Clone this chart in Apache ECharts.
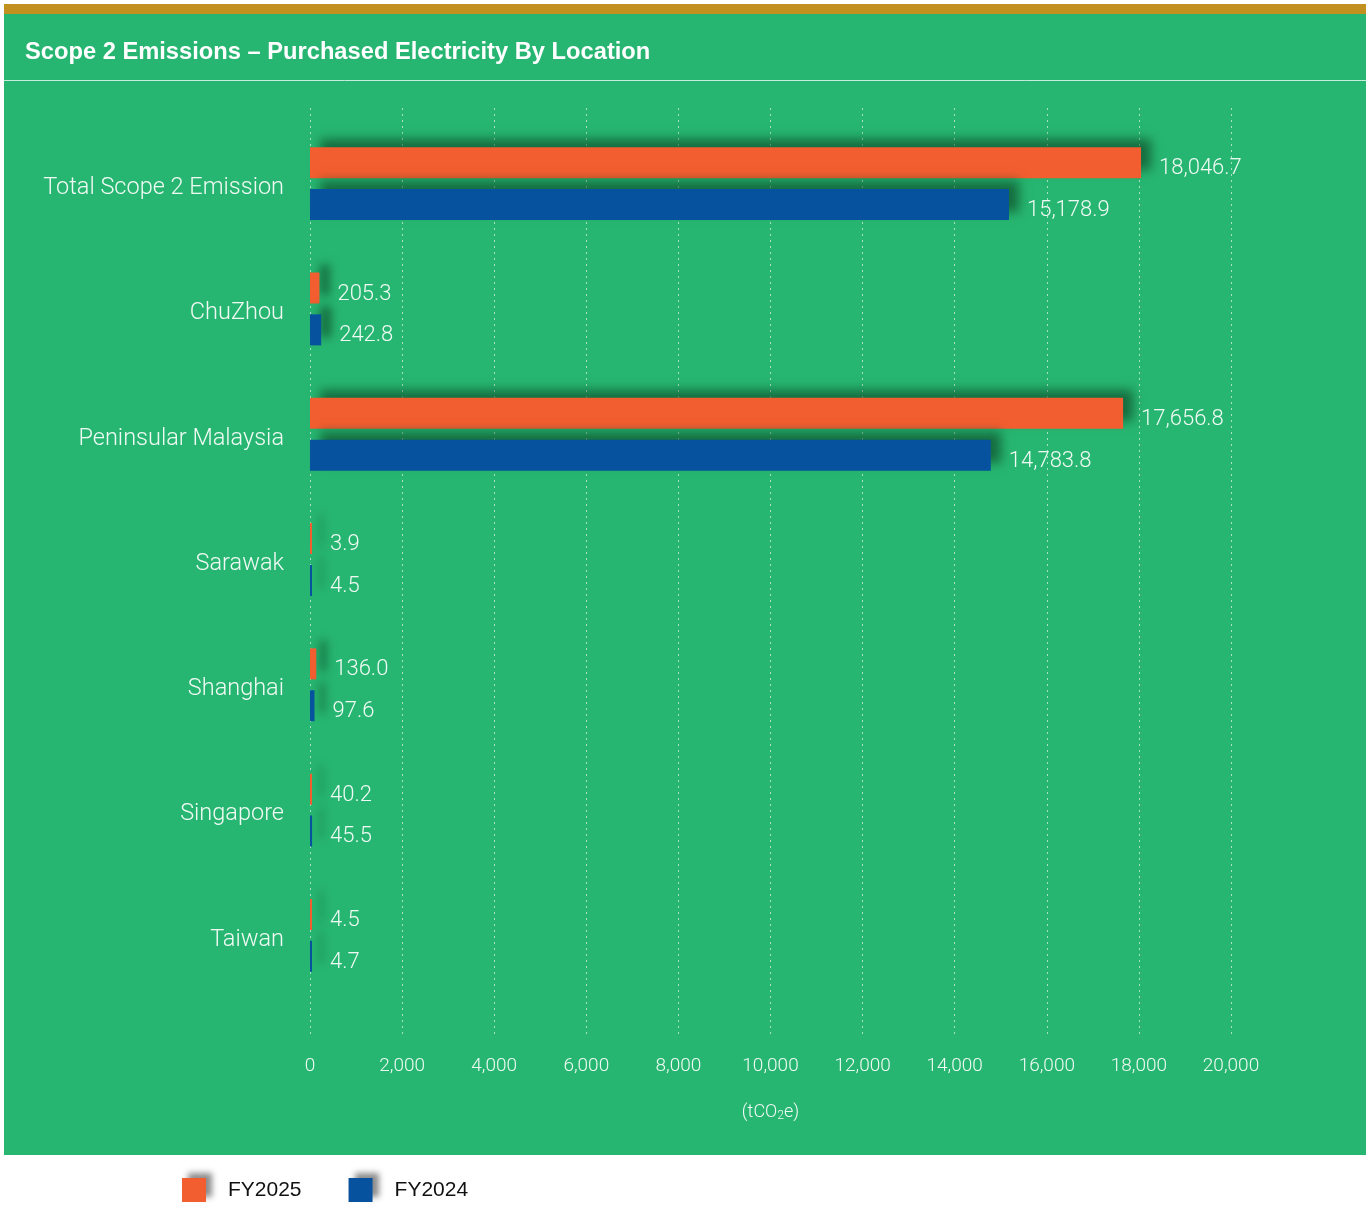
<!DOCTYPE html>
<html>
<head>
<meta charset="utf-8">
<script src="https://cdn.jsdelivr.net/npm/echarts@6/dist/echarts.min.js"></script>
<style>
  html, body { margin: 0; padding: 0; background: #fff; }
  #main { width: 1371px; height: 1210px; }
</style>
</head>
<body>
<div id="main"></div>
<script>
// data
var locations = ['Total Scope 2 Emission', 'ChuZhou', 'Peninsular Malaysia', 'Sarawak', 'Shanghai', 'Singapore', 'Taiwan'];
var fy2025 = [18046.7, 205.3, 17656.8, 3.9, 136.0, 40.2, 4.5];
var fy2024 = [15178.9, 242.8, 14783.8, 4.5, 97.6, 45.5, 4.7];
var seriesNames = ['FY2025', 'FY2024'];

var green = '#27b671';
var orange = '#f25e30';
var blue = '#07529e';
var lightText = '#f0faf4';
var font = 'Roboto, "Liberation Sans", sans-serif';

function fmt(v) {
  return v.toLocaleString('en-US', {minimumFractionDigits: 1, maximumFractionDigits: 1});
}

function barSeries(name, data, color) {
  return {
    name: name,
    type: 'bar',
    data: data,
    xAxisIndex: 0,
    yAxisIndex: 0,
    barWidth: 31,
    barGap: '35%',
    barMinHeight: 2,
    itemStyle: {
      color: color,
      shadowBlur: 10,
      shadowOffsetX: 10,
      shadowOffsetY: -8,
      shadowColor: 'rgba(10,60,30,0.6)'
    },
    label: {
      show: true,
      position: 'right',
      distance: 18,
      offset: [0, 6],
      color: lightText,
      fontSize: 22,
      fontWeight: 300,
      fontFamily: font,
      formatter: function (p) { return fmt(p.value); }
    }
  };
}

var chart = echarts.init(document.getElementById('main'));

var option = {
  backgroundColor: '#fff',
  animation: false,
  graphic: [
    { type: 'rect', z: -10, shape: { x: 4, y: 4, width: 1362, height: 10 }, style: { fill: '#c1901f' } },
    { type: 'rect', z: -10, shape: { x: 4, y: 14, width: 1362, height: 1141 }, style: { fill: green } },
    { type: 'line', z: -9, shape: { x1: 4, y1: 80.5, x2: 1366, y2: 80.5 }, style: { stroke: 'rgba(255,255,255,0.75)', lineWidth: 1 } }
  ],
  title: {
    text: 'Scope 2 Emissions \u2013 Purchased Electricity By Location',
    left: 20,
    top: 35,
    textStyle: { color: '#fff', fontSize: 23.7, fontWeight: 'bold', fontFamily: '"Liberation Sans", Arial, sans-serif' }
  },
  legend: {
    left: 177,
    top: 1173,
    itemWidth: 24,
    itemHeight: 24,
    itemGap: 47,
    icon: 'rect',
    data: seriesNames,
    textStyle: { color: '#111', fontSize: 21, fontFamily: '"Liberation Sans", Arial, sans-serif', padding: [0, 0, 0, 17] },
    itemStyle: { shadowBlur: 6, shadowOffsetX: 6, shadowOffsetY: -5, shadowColor: 'rgba(0,0,0,0.45)' }
  },
  grid: [
    { left: 310, width: 921, top: 121, height: 877 },
    { left: 310, width: 921, top: 108, height: 927 }
  ],
  xAxis: [
    {
      gridIndex: 0, type: 'value', min: 0, max: 20000, interval: 2000,
      axisLine: { show: false }, axisTick: { show: false }, axisLabel: { show: false }, splitLine: { show: false }
    },
    {
      gridIndex: 1, type: 'value', min: 0, max: 20000, interval: 2000,
      axisLine: { show: false }, axisTick: { show: false },
      axisLabel: {
        color: lightText, fontSize: 19, fontWeight: 300, fontFamily: font, margin: 22,
        formatter: function (v) { return v.toLocaleString('en-US'); }
      },
      splitLine: { show: true, lineStyle: { color: 'rgba(255,255,255,0.6)', type: [2, 4], width: 1 } },
      name: '(tCO{sub|2}e)',
      nameLocation: 'middle',
      nameGap: 67,
      nameTextStyle: {
        color: lightText, fontSize: 18, fontWeight: 300, fontFamily: font,
        rich: { sub: { fontSize: 12, verticalAlign: 'bottom', padding: [8, 0, 0, 0], color: lightText, fontWeight: 300 } }
      }
    }
  ],
  yAxis: [
    {
      gridIndex: 0, type: 'category', data: locations, inverse: true,
      axisLine: { show: false }, axisTick: { show: false },
      axisLabel: { color: lightText, fontSize: 23.5, fontWeight: 300, fontFamily: font, margin: 26, verticalAlign: 'top', lineHeight: 9 }
    },
    {
      gridIndex: 1, type: 'value', show: false
    }
  ],
  series: [
    barSeries(seriesNames[0], fy2025, orange),
    barSeries(seriesNames[1], fy2024, blue)
  ]
};

chart.setOption(option);
</script>
</body>
</html>
